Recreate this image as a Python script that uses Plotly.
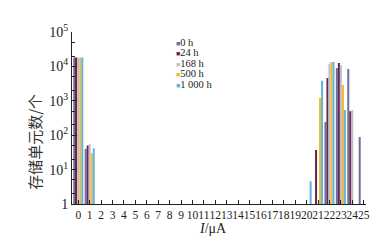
import plotly.graph_objects as go

currents = list(range(26))
tick_labels = [str(i) for i in currents]

def series(d):
    return [d.get(i) for i in currents]

h0 = series({0: 18000, 1: 40, 22: 240, 23: 9000, 24: 8400, 25: 89})
h24 = series({0: 18000, 1: 50, 21: 37, 22: 4600, 23: 12600, 24: 500})
h168 = series({0: 18000, 1: 55, 22: 12000, 23: 11000, 24: 540})
h500 = series({0: 18000, 1: 30, 21: 1200, 22: 13400, 23: 2900})
h1000 = series({0: 18000, 1: 42, 20: 4.6, 21: 3800, 22: 13400, 23: 540})

names = ["0 h", "24 h", "168 h", "500 h", "1 000 h"]
values = [h0, h24, h168, h500, h1000]
colors = ["#6e6f98", "#6a2352", "#bfbec6", "#f2b92c", "#5fb3de"]

fig = go.Figure()
for n, v, c in zip(names, values, colors):
    fig.add_trace(go.Bar(x=currents, y=v, name=n, marker=dict(color=c, line=dict(width=0)),
                         showlegend=False))

serif = "Liberation Serif, Times New Roman, serif"

fig.update_layout(
    width=388, height=244,
    margin=dict(l=72, r=22, t=32, b=40),
    paper_bgcolor="white", plot_bgcolor="white",
    barmode="group", bargap=0.12, bargroupgap=0,
    font=dict(family=serif, size=11, color="#222"),
)
fig.update_xaxes(
    range=[-0.55, 25.2], tickmode="array", tickvals=currents, ticktext=tick_labels,
    tickangle=0,
    showgrid=False, zeroline=False, showline=True, linecolor="#222", linewidth=1,
    ticks="inside", ticklen=4, tickcolor="#222",
    tickfont=dict(family=serif, size=11.5, color="#222"),
)
fig.update_yaxes(
    type="log", range=[0, 5], tickmode="array",
    tickvals=[1, 10, 100, 1000, 10000, 100000],
    ticktext=["1", "10<sup>1</sup>", "10<sup>2</sup>", "10<sup>3</sup>", "10<sup>4</sup>", "10<sup>5</sup>"],
    showgrid=False, zeroline=False, showline=True, linecolor="#222", linewidth=1,
    ticks="inside", ticklen=5, tickcolor="#222",
    minor=dict(ticks="inside", ticklen=3, tickcolor="#222", showgrid=False),
    tickfont=dict(family=serif, size=14, color="#222"),
)

# y title
fig.add_annotation(xref="paper", yref="paper", x=-0.13, y=0.36, text="存储单元数/个",
                   textangle=-90, showarrow=False, xanchor="center", yanchor="middle",
                   font=dict(family="Noto Sans CJK SC", size=15, color="#333"))
# x title
fig.add_annotation(xref="paper", yref="paper", x=0.48, y=-0.14, text="<i>I</i>/μA",
                   showarrow=False, xanchor="center", yanchor="middle",
                   font=dict(family=serif, size=14, color="#222"))

# legend as one multi-line text block
lines = [f"<span style='color:{c};font-size:7px'>■</span><span style='font-size:10.5px'>{n}</span>"
         for n, c in zip(names, colors)]
fig.add_annotation(xref="paper", yref="paper", x=(174 - 72) / 294,
                   y=(204 - 35) / 172,
                   text="<br>".join(lines), align="left",
                   showarrow=False, xanchor="left", yanchor="top",
                   font=dict(family=serif, size=8, color="#222"))

fig.write_html("out.html")
